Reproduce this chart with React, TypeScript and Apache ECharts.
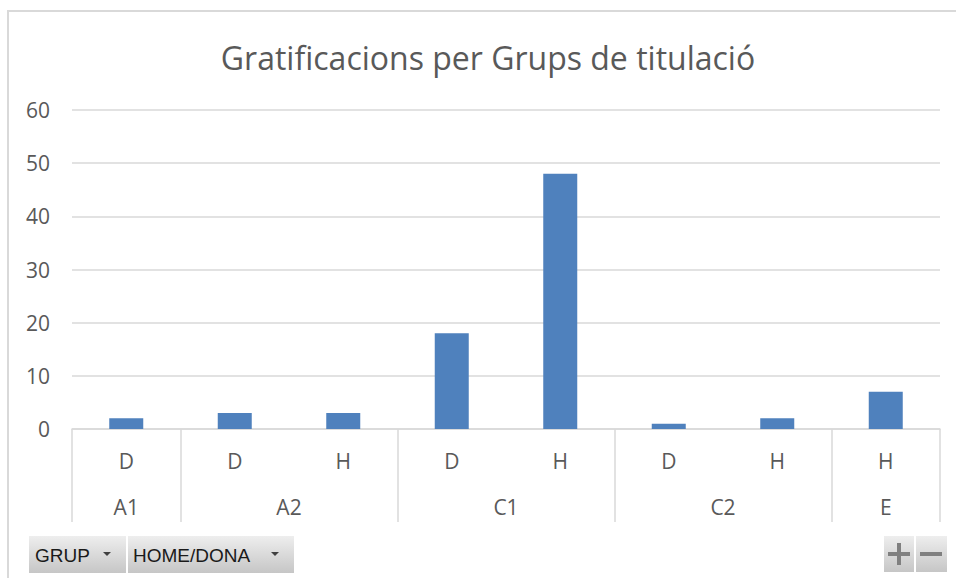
import React, { useEffect, useRef } from "react";
import * as echarts from "echarts";

const chartTitle = "Gratificacions per Grups de titulació";
const sexLabels = ["D", "D", "H", "D", "H", "D", "H", "H"];
const values = [2, 3, 3, 18, 48, 1, 2, 7];
const groupNames = ["A1", "A2", "C1", "C2", "E"];
const groupSizes = [1, 2, 2, 2, 1];
const yMin = 0;
const yMax = 60;
const yStep = 10;
const buttonLabels = ["GRUP", "HOME/DONA"];

const GRID = "#d9d9d9";
const TXT = "#595959";
const FONT = "'Open Sans', 'Liberation Sans', sans-serif";

export default function App() {
  const ref = useRef<HTMLDivElement>(null);
  useEffect(() => {
    if (!ref.current) return;
    const chart = echarts.init(ref.current, undefined, { renderer: "svg" });

    const boundaries: number[] = [0];
    const centers: number[] = [];
    let acc = 0;
    groupSizes.forEach((s) => {
      centers.push(acc + s / 2);
      acc += s;
      boundaries.push(acc);
    });
    const total = acc;

    const btnFill = () =>
      new echarts.graphic.LinearGradient(0, 0, 0, 1, [
        { offset: 0, color: "#eeeeee" },
        { offset: 1, color: "#c6c6c6" },
      ]);

    const tri = (cx: number, cy: number) => ({
      type: "polygon",
      shape: { points: [[cx - 4, cy - 2], [cx + 4, cy - 2], [cx, cy + 2]] },
      style: { fill: "#404040" },
    });

    chart.setOption({
      animation: false,
      backgroundColor: "#ffffff",
      grid: { left: 72, right: 16, top: 110, bottom: 149, containLabel: false },
      xAxis: [
        {
          type: "category",
          data: sexLabels,
          position: "bottom",
          axisLine: { show: true, lineStyle: { color: GRID, width: 1.5 } },
          axisTick: { show: false },
          axisLabel: { color: TXT, fontSize: 21, fontFamily: FONT, margin: 21, interval: 0 },
          splitLine: { show: false },
        },
        {
          type: "value",
          min: 0,
          max: total,
          position: "bottom",
          axisLine: { show: false },
          splitLine: { show: false },
          axisTick: {
            show: true,
            customValues: boundaries,
            length: 93,
            lineStyle: { color: GRID, width: 1.5 },
          },
          axisLabel: {
            show: true,
            customValues: centers,
            color: TXT,
            fontSize: 21,
            fontFamily: FONT,
            margin: 67,
            formatter: (v: number) => {
              const i = centers.findIndex((c) => Math.abs(c - v) < 1e-6);
              return i >= 0 ? groupNames[i] : "";
            },
          },
        },
      ],
      yAxis: {
        type: "value",
        min: yMin,
        max: yMax,
        interval: yStep,
        axisLine: { show: false },
        axisTick: { show: false },
        axisLabel: { color: TXT, fontSize: 21, fontFamily: FONT, margin: 22 },
        splitLine: { show: true, lineStyle: { color: GRID, width: 1.5 } },
      },
      series: [
        {
          type: "bar",
          xAxisIndex: 0,
          data: values,
          barWidth: 34,
          itemStyle: { color: "#4f81bd" },
        },
        {
          type: "line",
          xAxisIndex: 1,
          data: [],
          silent: true,
        },
      ],
      graphic: [
        {
          type: "rect",
          shape: { x: 8, y: 11, width: 1200, height: 1200 },
          style: { fill: "none", stroke: GRID, lineWidth: 2 },
          z: -10,
          silent: true,
        },
        {
          type: "text",
          style: {
            x: 488,
            y: 57,
            text: chartTitle,
            fill: TXT,
            font: `32px ${FONT}`,
            textAlign: "center",
            textVerticalAlign: "middle",
          },
        },
        // filter buttons
        {
          type: "rect",
          shape: { x: 29, y: 536, width: 97, height: 37 },
          style: { fill: btnFill() },
        },
        {
          type: "text",
          style: {
            x: 35,
            y: 555,
            text: buttonLabels[0],
            fill: "#1a1a1a",
            font: `19px 'Liberation Sans', sans-serif`,
            textVerticalAlign: "middle",
          },
        },
        tri(107, 554),
        {
          type: "rect",
          shape: { x: 128, y: 536, width: 166, height: 37 },
          style: { fill: btnFill() },
        },
        {
          type: "text",
          style: {
            x: 133,
            y: 555,
            text: buttonLabels[1],
            fill: "#1a1a1a",
            font: `19px 'Liberation Sans', sans-serif`,
            textVerticalAlign: "middle",
          },
        },
        tri(275, 554),
        // zoom buttons
        {
          type: "rect",
          shape: { x: 884, y: 536, width: 30, height: 36 },
          style: { fill: btnFill() },
        },
        {
          type: "rect",
          shape: { x: 916, y: 536, width: 31, height: 36 },
          style: { fill: btnFill() },
        },
        {
          type: "rect",
          shape: { x: 888, y: 552, width: 22, height: 4 },
          style: { fill: "#808080" },
        },
        {
          type: "rect",
          shape: { x: 897, y: 543, width: 4, height: 22 },
          style: { fill: "#808080" },
        },
        {
          type: "rect",
          shape: { x: 920, y: 552, width: 22, height: 4 },
          style: { fill: "#808080" },
        },
      ],
    });
    return () => chart.dispose();
  }, []);

  return (
    <div
      ref={ref}
      style={{ position: "absolute", left: 0, top: 0, width: 956, height: 578 }}
    />
  );
}
